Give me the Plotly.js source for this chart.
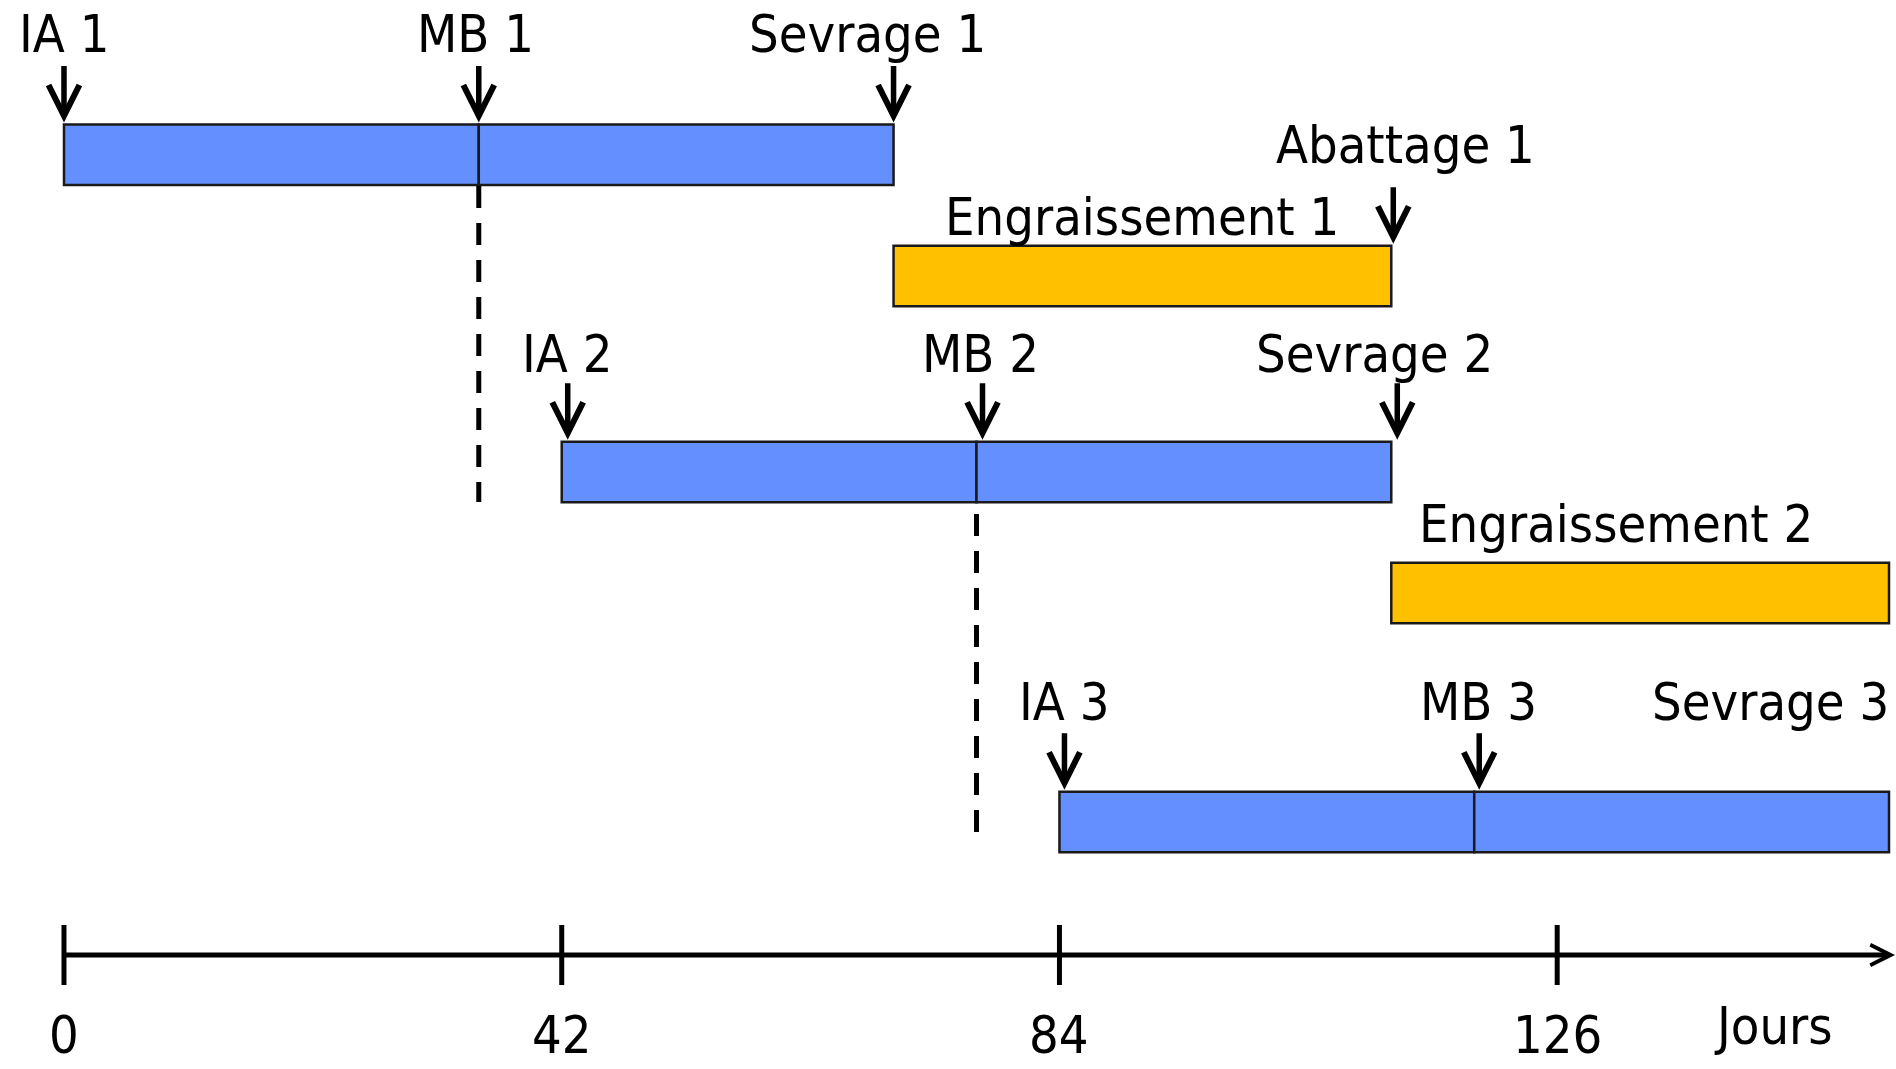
<!DOCTYPE html>
<html>
<head>
<meta charset="utf-8">
<script src="https://cdn.plot.ly/plotly-3.0.1.min.js"></script>
<style>
  html, body { margin: 0; padding: 0; background: #ffffff; }
  #chart { width: 1896px; height: 1069px; }
</style>
</head>
<body>
<div id="chart"></div>
<script>
// ---------------- DATA (days) ----------------
const cycleNums        = [1, 2, 3];
const iaDays           = [0, 42, 84];      // insémination artificielle
const mbDays           = [35, 77, 119];    // mise bas
const sevrageDays      = [70, 112, 154];   // sevrage
const engNums          = [1, 2];
const engStartDays     = [70, 112];        // début engraissement
const engEndDays       = [112, 154];       // fin engraissement
const abattageNums     = [1];
const abattageDays     = [112];
const tickDays         = [0, 42, 84, 126];
const tickLabels       = ['0', '42', '84', '126'];
const axisLabel        = 'Jours';

// ---------------- LAYOUT / STYLE ----------------
const W = 1896, H = 1069;
const X_RANGE = [-5.40, 154.59];
const FONT = 'DejaVu Sans Condensed, DejaVu Sans, sans-serif';
const FS = 52;
const BLUE = '#6490FF', GOLD = '#FFC000', EDGE = '#1a1a1a';
const BAR_H = 60.5;
const CYCLE_ROW = [154.75, 472, 822];
const ENG_ROW = [276, 593];
const CYCLE_LABEL_Y = [34, 354, 702];
const ENG_LABEL_Y = [217, 523.5];
const ABAT_LABEL_Y = [144.5];
const AXIS_Y = 955;
const TICK_HALF = 30;
const TICK_LABEL_Y = 1035;
const DASH_RANGES = [[186, 502], [514, 841]];   // y-extent of dashed MB guides (cycles 1 and 2)
const ARROW_LEN = 58;

const sub = (a, b) => a.map((v, i) => v - b[i]);

const traces = [
  { type: 'bar', orientation: 'h', name: 'Gestation',
    y: CYCLE_ROW, base: iaDays, x: sub(mbDays, iaDays), width: BAR_H,
    marker: { color: BLUE, line: { color: EDGE, width: 2.5 } }, hoverinfo: 'skip' },
  { type: 'bar', orientation: 'h', name: 'Lactation',
    y: CYCLE_ROW, base: mbDays, x: sub(sevrageDays, mbDays), width: BAR_H,
    marker: { color: BLUE, line: { color: EDGE, width: 2.5 } }, hoverinfo: 'skip' },
  { type: 'bar', orientation: 'h', name: 'Engraissement',
    y: ENG_ROW, base: engStartDays, x: sub(engEndDays, engStartDays), width: BAR_H,
    marker: { color: GOLD, line: { color: EDGE, width: 2.5 } }, hoverinfo: 'skip' }
];

const shapes = [];
// dashed guides from MB down to the next cycle
DASH_RANGES.forEach((r, i) => {
  shapes.push({ type: 'line', xref: 'x', yref: 'y', x0: mbDays[i], x1: mbDays[i], y0: r[0], y1: r[1],
    line: { color: '#000', width: 5, dash: '22px,15px' }, layer: 'above' });
});
// time axis ticks
tickDays.forEach(d => {
  shapes.push({ type: 'line', xref: 'x', yref: 'y', x0: d, x1: d, y0: AXIS_Y - TICK_HALF, y1: AXIS_Y + TICK_HALF,
    line: { color: '#000', width: 5 } });
});

const annotations = [];
const txt = (text, x, y, opts) => Object.assign({
  text, x, y, xref: 'x', yref: 'y', showarrow: false, xanchor: 'center', yanchor: 'middle',
  font: { family: FONT, size: FS, color: '#000' }
}, opts || {});
const arrow = (x, yTip, xshift) => ({
  text: '', x, y: yTip, xref: 'x', yref: 'y', showarrow: true, ax: 0, ay: -ARROW_LEN,
  xshift: xshift || 0,
  arrowhead: 5, arrowsize: 1.1, arrowwidth: 5.5, arrowcolor: '#000', standoff: 0
});

const IA_SHIFT = [0, 5, 5], MB_SHIFT = [-3, 4, 4], SEV_SHIFT = [-26, -17, 2];
const ARROW_SHIFT = [0, 6, 5];
cycleNums.forEach((n, i) => {
  const top = CYCLE_ROW[i] - BAR_H / 2;
  annotations.push(txt('IA ' + n, iaDays[i], CYCLE_LABEL_Y[i], { xshift: IA_SHIFT[i] }));
  annotations.push(txt('MB ' + n, mbDays[i], CYCLE_LABEL_Y[i], { xshift: MB_SHIFT[i] }));
  annotations.push(txt('Sevrage ' + n, sevrageDays[i], CYCLE_LABEL_Y[i],
    i === cycleNums.length - 1 ? { xanchor: 'right', xshift: SEV_SHIFT[i] } : { xshift: SEV_SHIFT[i] }));
  annotations.push(arrow(iaDays[i], top - 2, ARROW_SHIFT[i]));
  annotations.push(arrow(mbDays[i], top - 2, ARROW_SHIFT[i]));
  if (i < cycleNums.length - 1) annotations.push(arrow(sevrageDays[i], top - 2, ARROW_SHIFT[i]));
});
engNums.forEach((n, i) => {
  const opts = i === 0
    ? { }
    : { xanchor: 'left', xshift: 26 };
  const xPos = i === 0 ? (engStartDays[i] + engEndDays[i]) / 2 : engStartDays[i];
  annotations.push(txt('Engraissement ' + n, xPos, ENG_LABEL_Y[i], opts));
});
abattageNums.forEach((n, i) => {
  annotations.push(txt('Abattage ' + n, abattageDays[i], ABAT_LABEL_Y[i], { xshift: 14 }));
  annotations.push(arrow(abattageDays[i], ENG_ROW[i] - BAR_H / 2 - 2, 2));
});
// time axis with arrow
annotations.push({
  text: '', x: X_RANGE[1] - 0.08, y: AXIS_Y, ax: tickDays[0], ay: AXIS_Y, xref: 'x', yref: 'y', axref: 'x', ayref: 'y',
  showarrow: true, arrowhead: 5, arrowsize: 0.8, arrowwidth: 5, arrowcolor: '#000', standoff: 0
});
tickDays.forEach((d, i) => annotations.push(txt(tickLabels[i], d, TICK_LABEL_Y)));
annotations.push(Object.assign(txt(axisLabel, 1773 / W, 1026), { xref: 'paper' }));

const layout = {
  width: W, height: H,
  margin: { l: 0, r: 0, t: 0, b: 0, pad: 0 },
  paper_bgcolor: '#ffffff', plot_bgcolor: '#ffffff',
  showlegend: false, barmode: 'overlay',
  xaxis: { range: X_RANGE, visible: false, fixedrange: true },
  yaxis: { range: [H, 0], visible: false, fixedrange: true },
  shapes, annotations,
  font: { family: FONT, size: FS, color: '#000' }
};

Plotly.newPlot('chart', traces, layout, { staticPlot: true, displayModeBar: false });
</script>
</body>
</html>
